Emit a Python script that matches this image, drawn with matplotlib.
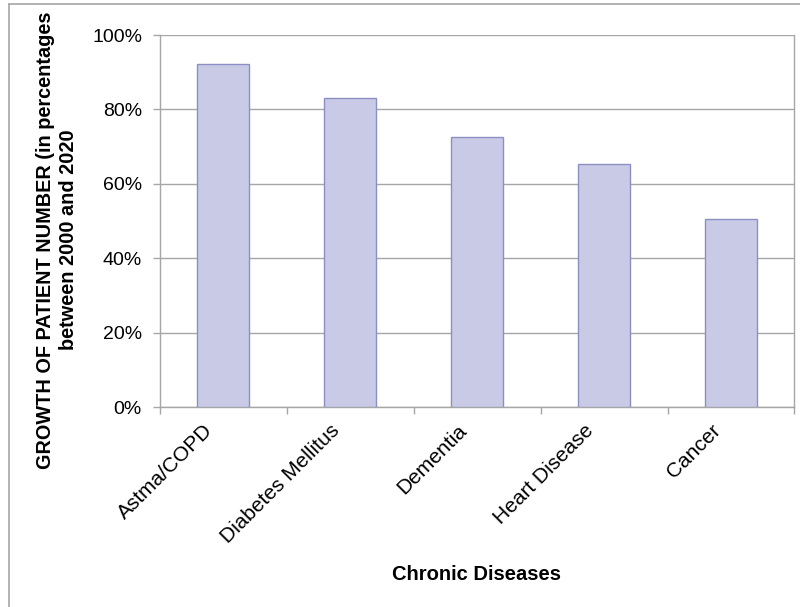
import matplotlib
matplotlib.use("Agg")
import matplotlib.pyplot as plt
from matplotlib.lines import Line2D
from matplotlib.ticker import PercentFormatter, FixedLocator
from matplotlib.transforms import offset_copy

categories = ["Astma/COPD", "Diabetes Mellitus", "Dementia", "Heart Disease", "Cancer"]
growth = [92.3, 83.0, 72.5, 65.3, 50.5]
y_ticks = [0, 20, 40, 60, 80, 100]

plt.rcParams["font.family"] = ["Liberation Sans", "DejaVu Sans"]

fig = plt.figure(figsize=(8.0, 6.07), dpi=100)
W, H = 800, 607
ax = fig.add_axes([159.5 / W, 1 - 407 / H, 635 / W, 372 / H])

grid_c = "#a6a6a6"
x = list(range(len(categories)))
ax.bar(x, growth, width=0.41, color="#c9cbe6", edgecolor="#8d8fc2", linewidth=1.0, zorder=3)

ax.set_xlim(-0.5, len(categories) - 0.5)
ax.set_ylim(0, 100)
ax.yaxis.set_major_locator(FixedLocator(y_ticks))
ax.yaxis.set_major_formatter(PercentFormatter(decimals=0))
ax.grid(axis="y", color=grid_c, linewidth=1.0, zorder=0)

# category boundaries carry the tick marks
ax.set_xticks([i - 0.5 for i in range(len(categories) + 1)])
ax.set_xticklabels([])
ax.tick_params(axis="x", which="major", length=5, color=grid_c, width=1)
ax.tick_params(axis="y", length=5, color=grid_c, width=1, labelsize=14, pad=7.6)

# slanted category names below each bar
label_tf = offset_copy(ax.get_xaxis_transform(), fig=fig, x=-14.5, y=-10, units="points")
for xi, name in zip(x, categories):
    ax.text(xi, 0, name, transform=label_tf, rotation=45, rotation_mode="anchor",
            ha="right", va="top", fontsize=15)

for side in ("left", "right", "bottom"):
    ax.spines[side].set_color(grid_c)
    ax.spines[side].set_linewidth(1.0)
ax.spines["top"].set_visible(False)

ax.set_xlabel("Chronic Diseases", fontsize=14.5, fontweight="bold", labelpad=0)
ax.xaxis.set_label_coords(0.5, -(565 - 407) / 372)

fig.text(57 / W, 1 - 240 / H,
         "GROWTH OF PATIENT NUMBER (in percentages\nbetween 2000 and 2020",
         rotation=90, ha="center", va="center", multialignment="center",
         fontsize=14.3, fontweight="bold", linespacing=1.33)

# outer chart frame
fig.add_artist(Line2D([8.5 / W, 8.5 / W], [0, 1 - 3.5 / H], transform=fig.transFigure,
                      color=grid_c, linewidth=1.2))
fig.add_artist(Line2D([8.5 / W, 1], [1 - 3.5 / H, 1 - 3.5 / H], transform=fig.transFigure,
                      color=grid_c, linewidth=1.2))

fig.savefig("out.png", dpi=100)
